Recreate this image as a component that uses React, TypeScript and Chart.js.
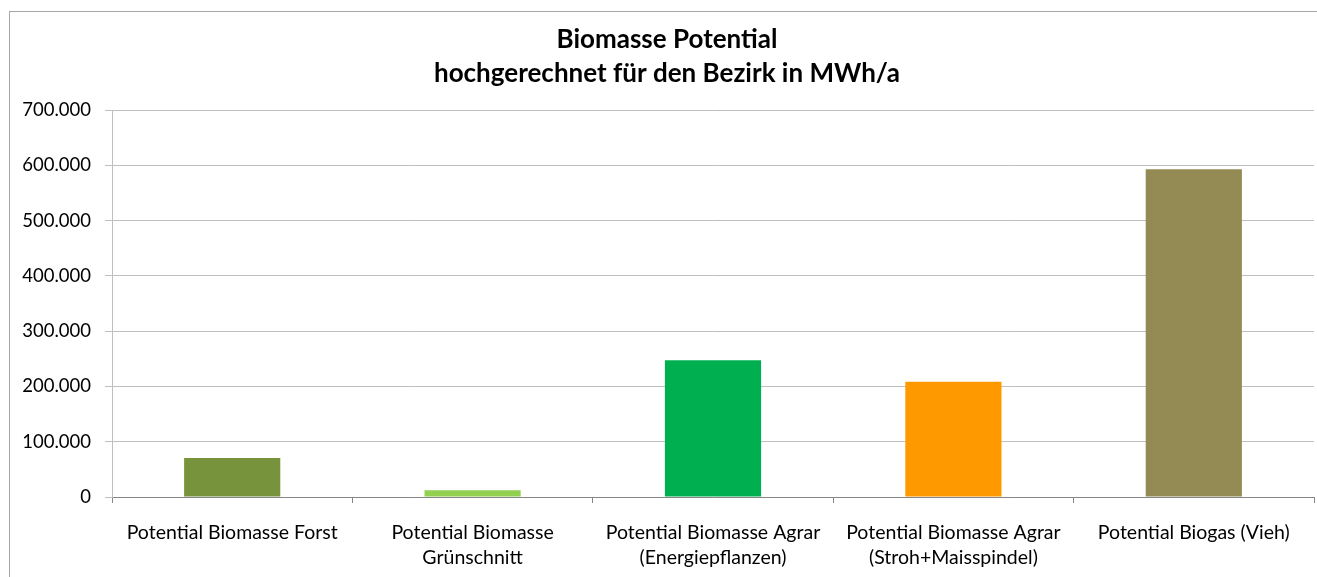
import React, { useEffect, useRef } from "react";
import { Chart, registerables } from "chart.js";

Chart.register(...registerables);

const titleLines = ["Biomasse Potential", "hochgerechnet für den Bezirk in MWh/a"];
const categories: (string | string[])[] = [
  "Potential Biomasse Forst",
  ["Potential Biomasse", "Grünschnitt"],
  ["Potential Biomasse Agrar", "(Energiepflanzen)"],
  ["Potential Biomasse Agrar", "(Stroh+Maisspindel)"],
  "Potential Biogas (Vieh)",
];
const values = [70500, 12000, 247500, 208500, 593000];
const barColors = ["#77933C", "#92D050", "#00B050", "#FF9900", "#948A54"];
const yMin = 0;
const yMax = 700000;
const yStep = 100000;

const FONT = "Lato, 'Open Sans', sans-serif";

function formatDe(v: number): string {
  return String(Math.round(v)).replace(/\B(?=(\d{3})+(?!\d))/g, ".");
}

const framePlugin = {
  id: "frame",
  beforeDraw(chart: any) {
    const ctx = chart.ctx;
    ctx.save();
    ctx.fillStyle = "#ffffff";
    ctx.fillRect(0, 0, chart.width, chart.height);
    ctx.strokeStyle = "#a6a6a6";
    ctx.lineWidth = 1;
    ctx.strokeRect(9.5, 11.5, chart.width + 20, chart.height + 20);
    ctx.restore();
  },
  afterDraw(chart: any) {
    const ctx = chart.ctx;
    ctx.save();
    ctx.fillStyle = "#000000";
    ctx.font = `bold 26px ${FONT}`;
    ctx.textAlign = "center";
    ctx.textBaseline = "alphabetic";
    ctx.fillText(titleLines[0], 667, 48);
    ctx.fillText(titleLines[1], 667, 82);
    ctx.restore();
  },
};

export default function App() {
  const ref = useRef<HTMLCanvasElement | null>(null);
  useEffect(() => {
    if (!ref.current) return;
    const chart = new Chart(ref.current, {
      type: "bar",
      data: {
        labels: categories,
        datasets: [
          {
            data: values,
            backgroundColor: barColors,
            borderWidth: 0,
            barPercentage: 0.4,
            categoryPercentage: 1,
          },
        ],
      },
      options: {
        animation: false,
        responsive: false,
        maintainAspectRatio: false,
        devicePixelRatio: 1,
        layout: { padding: { left: 9, right: 3, top: 110, bottom: 0 } },
        plugins: {
          legend: { display: false },
          title: { display: false },
          tooltip: { enabled: false },
        },
        scales: {
          x: {
            offset: true,
            grid: {
              display: true,
              offset: true,
              drawOnChartArea: false,
              drawTicks: true,
              tickLength: 6,
              color: "#868686",
            },
            border: { display: true, color: "#868686", width: 1 },
            ticks: {
              color: "#000000",
              font: { family: FONT, size: 19.5, lineHeight: 1.28 },
              padding: 17,
              maxRotation: 0,
              autoSkip: false,
            },
            afterFit(scale: any) {
              scale.height = 80;
            },
          },
          y: {
            min: yMin,
            max: yMax,
            grid: {
              color: "#bfbfbf",
              tickLength: 7,
              drawTicks: true,
            },
            border: { display: true, color: "#bfbfbf", width: 1 },
            ticks: {
              stepSize: yStep,
              color: "#000000",
              font: { family: FONT, size: 18.5 },
              padding: 14,
              callback: (v: any) => formatDe(Number(v)),
            },
            afterFit(scale: any) {
              scale.width = 103;
            },
          },
        },
      },
      plugins: [framePlugin],
    });
    return () => chart.destroy();
  }, []);
  return (
    <div style={{ position: "fixed", left: 0, top: 0, width: 1317, height: 577, background: "#fff" }}>
      <canvas ref={ref} width={1317} height={577} style={{ width: 1317, height: 577, display: "block" }} />
    </div>
  );
}
